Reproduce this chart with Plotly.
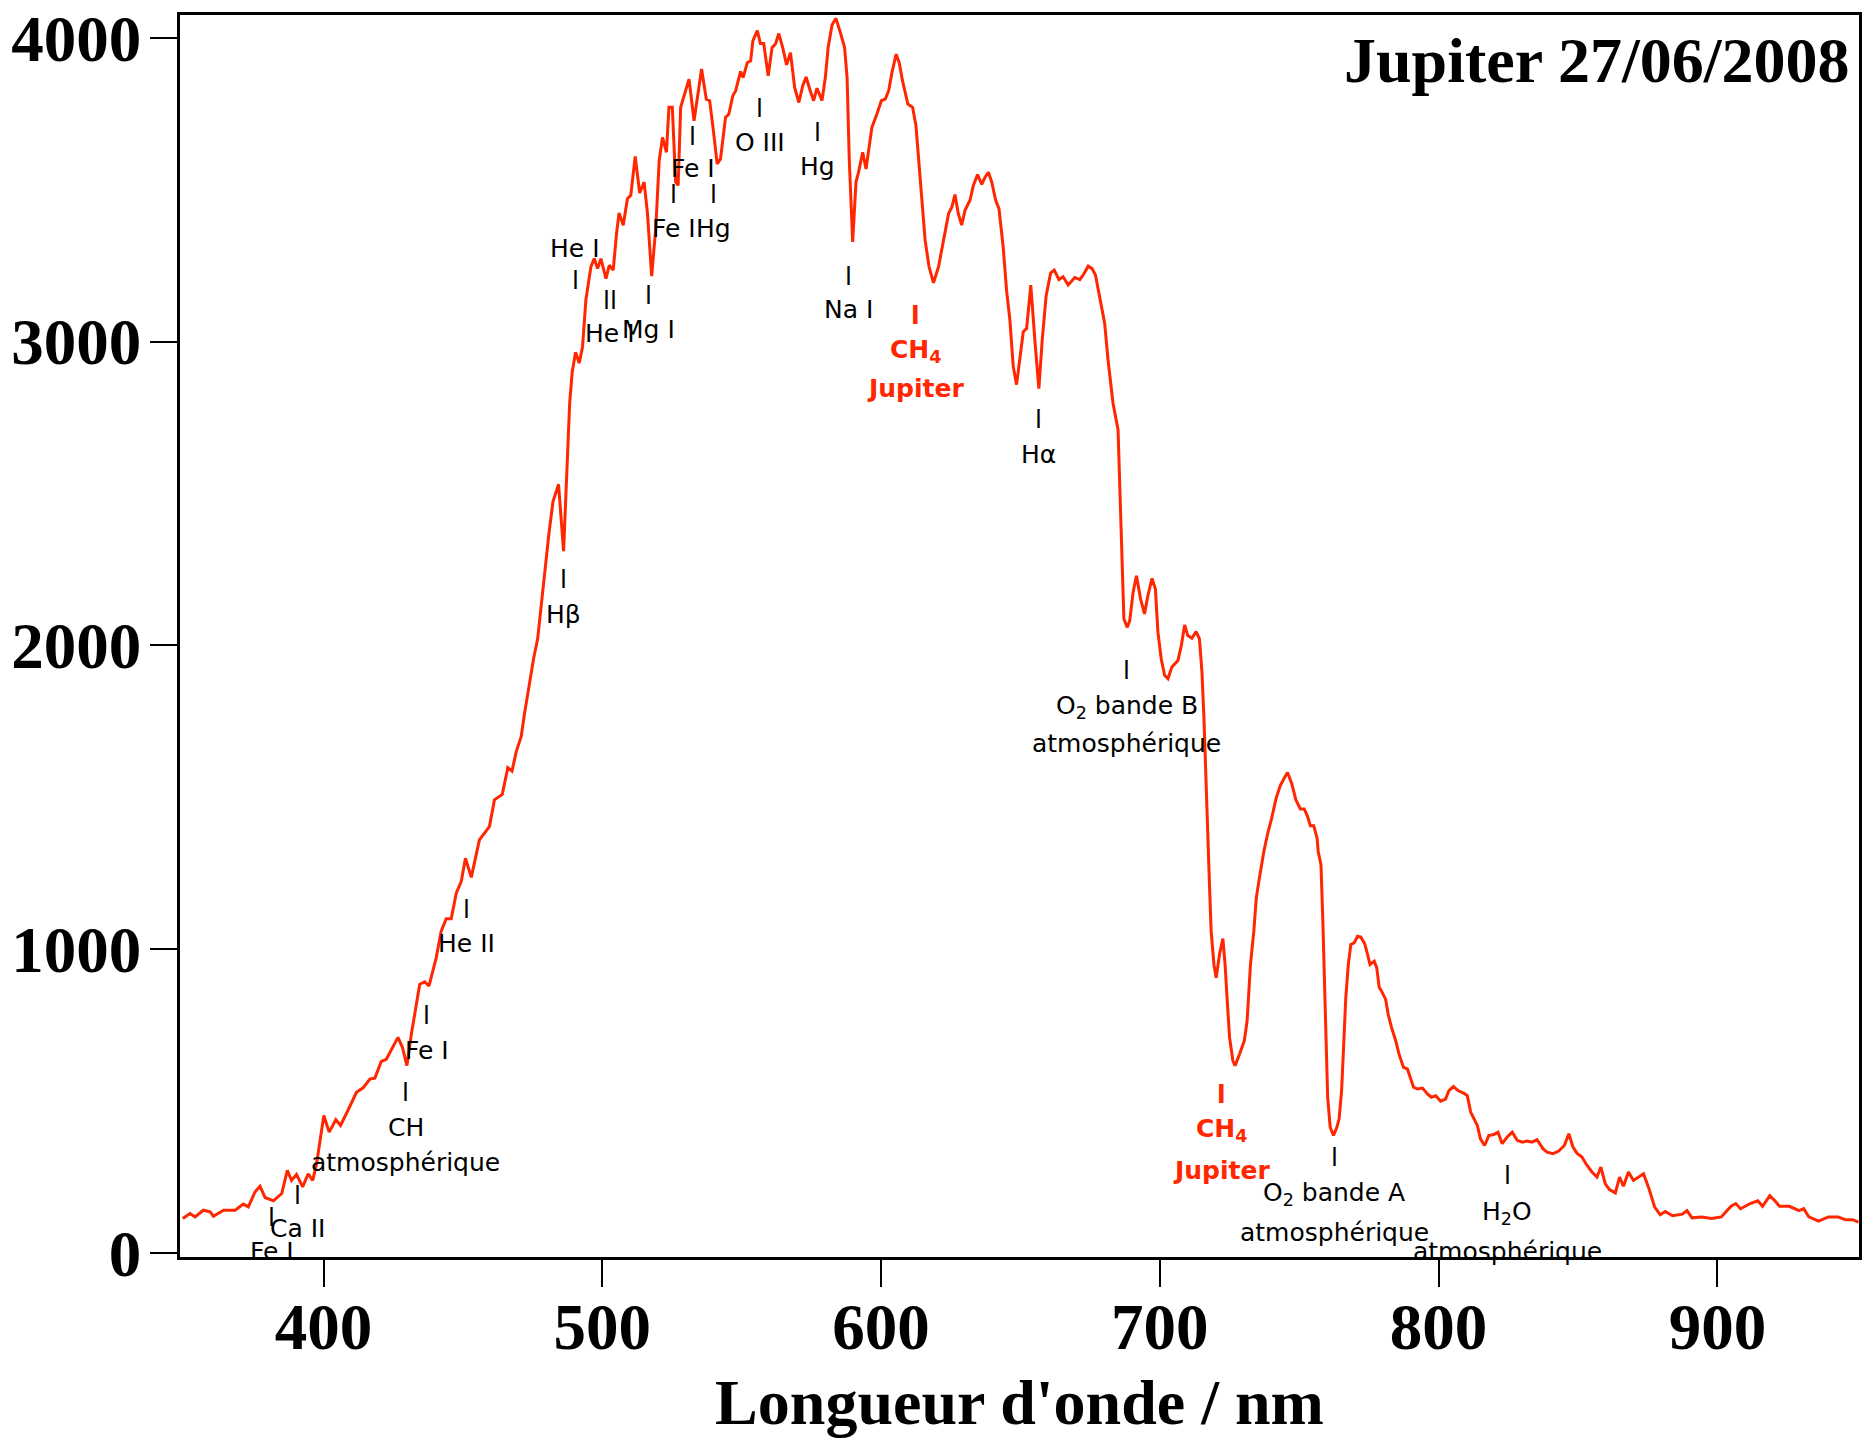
import plotly.graph_objects as go

# ---------------- data ----------------
wavelength_nm = [
    349.5, 352.1, 353.9, 356.9, 359.3, 360.5, 364.1, 368.3, 371.2, 373.0, 375.4, 377.2, 379.0, 382.0, 385.0,
    387.0, 388.5, 390.3, 392.5, 394.5, 396.1, 397.5, 400.1, 402.0, 404.4, 406.1, 408.8, 411.8, 414.2, 416.6,
    418.4, 420.7, 422.5, 424.9, 426.7, 428.3, 429.9, 431.5, 434.5, 436.3, 437.8, 440.4, 442.2, 444.0, 445.8,
    447.6, 449.4, 450.9, 453.0, 455.9, 459.5, 461.3, 464.1, 466.1, 467.6, 469.1, 470.9, 472.0, 474.0, 475.4,
    476.8, 479.5, 480.9, 482.3, 484.3, 486.1, 487.3, 488.3, 489.2, 490.4, 491.7, 492.9, 494.1, 495.9, 497.1,
    498.3, 499.5, 501.3, 502.5, 503.9, 505.1, 506.0, 507.5, 509.0, 510.2, 511.8, 513.4, 515.0, 516.2, 517.7,
    519.2, 520.4, 521.6, 523.0, 523.9, 525.1, 526.3, 527.2, 528.1, 529.3, 531.1, 532.9, 534.4, 535.6, 537.3,
    538.5, 539.7, 541.2, 542.4, 544.2, 545.4, 546.8, 547.8, 549.6, 550.5, 552.0, 553.2, 554.0, 555.6, 556.7,
    557.9, 559.5, 560.9, 562.1, 563.3, 564.7, 566.1, 567.5, 569.0, 570.5, 571.9, 573.1, 574.6, 575.8, 577.0,
    578.8, 580.0, 581.0, 582.4, 583.8, 585.4, 586.9, 587.8, 588.6, 589.8, 591.0, 591.9, 593.4, 594.6, 595.8,
    596.7, 598.5, 600.1, 601.5, 602.7, 603.9, 605.4, 606.5, 607.7, 609.6, 611.3, 612.5, 614.0, 615.8, 617.2,
    618.8, 620.6, 622.4, 624.2, 625.4, 626.5, 627.7, 628.9, 630.1, 631.9, 633.1, 634.6, 636.1, 637.3, 638.5,
    639.7, 641.1, 642.3, 643.8, 645.0, 646.2, 647.4, 648.6, 649.8, 651.0, 652.2, 653.7, 655.2, 656.6, 657.8,
    659.2, 660.8, 662.1, 663.8, 665.3, 667.1, 669.5, 671.3, 672.5, 674.3, 675.7, 676.9, 678.4, 680.2, 681.4,
    683.2, 685.0, 685.6, 686.4, 687.1, 688.3, 689.2, 690.4, 691.6, 693.1, 694.5, 695.7, 697.2, 698.4, 699.3,
    700.5, 701.7, 702.9, 704.3, 706.5, 707.7, 708.9, 710.0, 711.5, 713.0, 714.2, 715.1, 715.8, 716.3, 717.2,
    717.8, 718.4, 719.4, 720.2, 721.4, 722.6, 723.4, 724.1, 725.0, 726.2, 727.0, 728.6, 730.3, 731.3, 732.5,
    733.7, 734.6, 735.7, 737.3, 738.7, 740.1, 741.7, 743.2, 744.7, 745.8, 747.3, 748.8, 750.4, 751.8, 753.0,
    754.0, 755.2, 756.4, 756.8, 757.8, 758.4, 759.0, 759.6, 760.2, 761.1, 762.3, 763.5, 764.3, 765.2, 766.1,
    766.7, 767.6, 768.5, 769.7, 770.9, 772.1, 773.5, 774.5, 775.4, 776.9, 777.8, 778.7, 779.5, 781.0, 781.9,
    783.1, 784.6, 785.8, 787.4, 788.8, 789.8, 791.0, 792.4, 794.2, 796.0, 797.4, 799.0, 800.7, 802.5, 803.7,
    805.3, 807.0, 809.1, 810.3, 811.5, 812.9, 813.9, 815.0, 816.5, 818.0, 819.8, 821.3, 822.8, 824.6, 826.4,
    828.2, 830.0, 831.7, 833.5, 835.3, 837.5, 838.9, 841.0, 843.1, 845.1, 846.7, 848.2, 849.6, 851.4, 853.2,
    855.0, 856.8, 858.2, 859.8, 861.3, 863.4, 864.9, 866.3, 868.1, 869.9, 871.7, 873.5, 875.5, 877.5, 879.5,
    881.3, 883.9, 887.4, 889.1, 890.9, 894.4, 897.9, 901.4, 904.9, 906.6, 908.3, 911.8, 914.5, 916.2, 918.8,
    920.6, 922.3, 925.8, 929.3, 931.0, 932.8, 936.3, 939.8, 943.3, 945.9, 948.5, 950.6,
]

intensity = [
    113, 129, 118, 140, 135, 120, 140, 140, 160, 151, 200, 219, 182, 171, 195,
    271, 238, 258, 217, 260, 238, 293, 452, 397, 438, 419, 470, 528, 543, 572,
    575, 630, 637, 676, 709, 676, 616, 720, 884, 892, 878, 971, 1059, 1100, 1100,
    1184, 1223, 1299, 1236, 1359, 1403, 1491, 1509, 1597, 1586, 1649, 1700, 1770, 1883, 1959,
    2021, 2260, 2372, 2473, 2530, 2310, 2560, 2800, 2900, 2965, 2929, 2983, 3137, 3246, 3273,
    3240, 3273, 3207, 3251, 3235, 3355, 3423, 3383, 3470, 3481, 3609, 3489, 3525, 3421, 3215,
    3377, 3596, 3672, 3623, 3771, 3771, 3525, 3514, 3771, 3809, 3864, 3727, 3825, 3897, 3798,
    3793, 3705, 3585, 3601, 3738, 3749, 3809, 3825, 3889, 3869, 3918, 3924, 3990, 4024, 3981,
    3981, 3875, 3968, 3979, 4014, 3968, 3911, 3951, 3836, 3787, 3842, 3871, 3825, 3793, 3834,
    3793, 3869, 3968, 4042, 4064, 4017, 3968, 3869, 3596, 3328, 3525, 3557, 3623, 3568, 3650,
    3705, 3749, 3793, 3798, 3825, 3886, 3946, 3918, 3858, 3782, 3771, 3711, 3552, 3333, 3246,
    3193, 3246, 3333, 3421, 3443, 3484, 3421, 3383, 3432, 3465, 3514, 3550, 3517, 3541, 3557,
    3525, 3465, 3437, 3311, 3169, 3071, 2918, 2858, 2950, 3032, 3043, 3186, 3000, 2845, 3005,
    3150, 3225, 3235, 3204, 3213, 3186, 3211, 3204, 3219, 3248, 3240, 3219, 3147, 3060, 2940,
    2797, 2710, 2546, 2305, 2087, 2059, 2081, 2174, 2229, 2152, 2103, 2163, 2220, 2185, 2043,
    1955, 1901, 1890, 1928, 1950, 1999, 2067, 2032, 2023, 2045, 2021, 1912, 1764, 1605, 1387,
    1212, 1058, 949, 905, 982, 1034, 949, 840, 709, 632, 616, 654, 698, 763, 949,
    1058, 1168, 1234, 1321, 1381, 1430, 1496, 1538, 1564, 1581, 1545, 1491, 1461, 1461, 1436,
    1406, 1406, 1365, 1321, 1277, 1113, 894, 676, 512, 413, 386, 413, 441, 534, 730,
    840, 949, 1015, 1020, 1042, 1039, 1017, 982, 949, 960, 938, 873, 862, 834, 785,
    742, 698, 654, 610, 605, 577, 545, 539, 542, 523, 512, 517, 499, 506, 534,
    547, 534, 525, 517, 463, 437, 419, 375, 353, 386, 389, 397, 359, 381, 397,
    370, 364, 368, 364, 372, 342, 331, 326, 335, 353, 392, 348, 328, 315, 288,
    266, 249, 282, 227, 208, 197, 249, 219, 266, 238, 249, 260, 210, 150, 125,
    136, 122, 127, 139, 115, 118, 113, 118, 153, 162, 145, 162, 171, 153, 188,
    171, 153, 153, 139, 145, 118, 104, 118, 118, 109, 109, 101,
]

x_tick_values = [400, 500, 600, 700, 800, 900]
y_tick_values = [0, 1000, 2000, 3000, 4000]

chart_title = "Jupiter 27/06/2008"
x_axis_title = "Longueur d'onde / nm"

# spectral line labels: (wavelength, intensity level, text, colour, bold)
line_labels = [
    (381.4, 114.8, "l", "black", False), (381.4, 3.3, "Fe I", "black", False),
    (390.55, 187, "l", "black", False), (390.55, 78.7, "Ca II", "black", False),
    (429.46, 526.6, "l", "black", False), (429.46, 411, "CH", "black", False),
    (429.46, 297, "atmosphérique", "black", False),
    (436.97, 780.8, "l", "black", False), (436.97, 666, "Fe I", "black", False),
    (451.18, 1128.6, "l", "black", False), (451.18, 1017, "He II", "black", False),
    (486.2, 2217.8, "l", "black", False), (486.2, 2099.7, "Hβ", "black", False),
    (490.3, 3307, "He I", "black", False), (490.3, 3202, "l", "black", False),
    (502.65, 3136.5, "ll", "black", False), (502.65, 3028, "He I", "black", False),
    (516.5, 3153, "l", "black", False), (516.5, 3038, "Mg I", "black", False),
    (532.35, 3674.5, "l", "black", False), (532.35, 3569.6, "Fe I", "black", False),
    (525.7, 3484, "l", "black", False), (525.7, 3372.7, "Fe I", "black", False),
    (539.8, 3484, "l", "black", False), (539.8, 3372.7, "Hg", "black", False),
    (556.5, 3766, "l", "black", False), (556.5, 3655.8, "O III", "black", False),
    (577.1, 3687.7, "l", "black", False), (577.1, 3576, "Hg", "black", False),
    (588.4, 3213, "l", "black", False), (588.4, 3104, "Na I", "black", False),
    (612.45, 3087, "l", "#FF2600", True), (612.45, 2968, "CH<sub>4</sub>", "#FF2600", True),
    (612.45, 2845, "Jupiter", "#FF2600", True),
    (656.55, 2743, "l", "black", False), (656.55, 2628, "Hα", "black", False),
    (688.04, 1916, "l", "black", False), (688.04, 1796, "O<sub>2</sub> bande B", "black", False),
    (688.04, 1676, "atmosphérique", "black", False),
    (722.2, 520, "l", "#FF2600", True), (722.2, 405, "CH<sub>4</sub>", "#FF2600", True),
    (722.2, 272, "Jupiter", "#FF2600", True),
    (762.56, 314, "l", "black", False), (762.56, 194, "O<sub>2</sub> bande A", "black", False),
    (762.56, 66, "atmosphérique", "black", False),
    (824.6, 254, "l", "black", False), (824.6, 132, "H<sub>2</sub>O", "black", False),
    (824.6, 5, "atmosphérique", "black", False),
]

# ---------------- figure ----------------
SERIF = "Liberation Serif"
SANS = "DejaVu Sans"
RED = "#FF2600"

fig = go.Figure()
fig.add_trace(go.Scatter(
    x=wavelength_nm, y=intensity, mode="lines",
    line=dict(color=RED, width=3), hoverinfo="skip", showlegend=False,
))

annotations = []
for wl, lvl, txt, col, bold in line_labels:
    annotations.append(dict(
        x=wl, y=lvl, xref="x", yref="y", text=txt, showarrow=False,
        xanchor="center", yanchor="middle",
        font=dict(family=SANS, size=25, color=col, weight="bold" if bold else "normal"),
    ))
annotations.append(dict(
    x=0.9958, y=0.963, xref="paper", yref="paper", text=chart_title, showarrow=False,
    xanchor="right", yanchor="middle",
    font=dict(family=SERIF, size=64, color="black", weight="bold"),
))

axis_common = dict(
    showline=True, linecolor="black", linewidth=2.5, mirror=True,
    ticks="outside", ticklen=27, tickwidth=2, tickcolor="black",
    showgrid=False, zeroline=False,
    tickfont=dict(family=SERIF, size=65, color="black", weight="bold"),
)

fig.update_layout(
    width=1865, height=1438,
    margin=dict(l=180, r=3, t=14, b=178, pad=0),
    paper_bgcolor="white", plot_bgcolor="white",
    showlegend=False,
    annotations=annotations,
    xaxis=dict(range=[348.5, 950.8], tickvals=x_tick_values,
               ticktext=[str(v) for v in x_tick_values],
               ticklabelstandoff=-16,
               title=dict(text=x_axis_title, standoff=27,
                          font=dict(family=SERIF, size=64, color="black", weight="bold")),
               **axis_common),
    yaxis=dict(range=[-14, 4075], tickvals=y_tick_values,
               ticktext=[str(v) for v in y_tick_values],
               ticklabelstandoff=-4,
               **axis_common),
)

fig.write_html("out.html", config=dict(displayModeBar=False),
               post_script="document.body.style.margin='0';document.body.style.overflow='hidden';")
